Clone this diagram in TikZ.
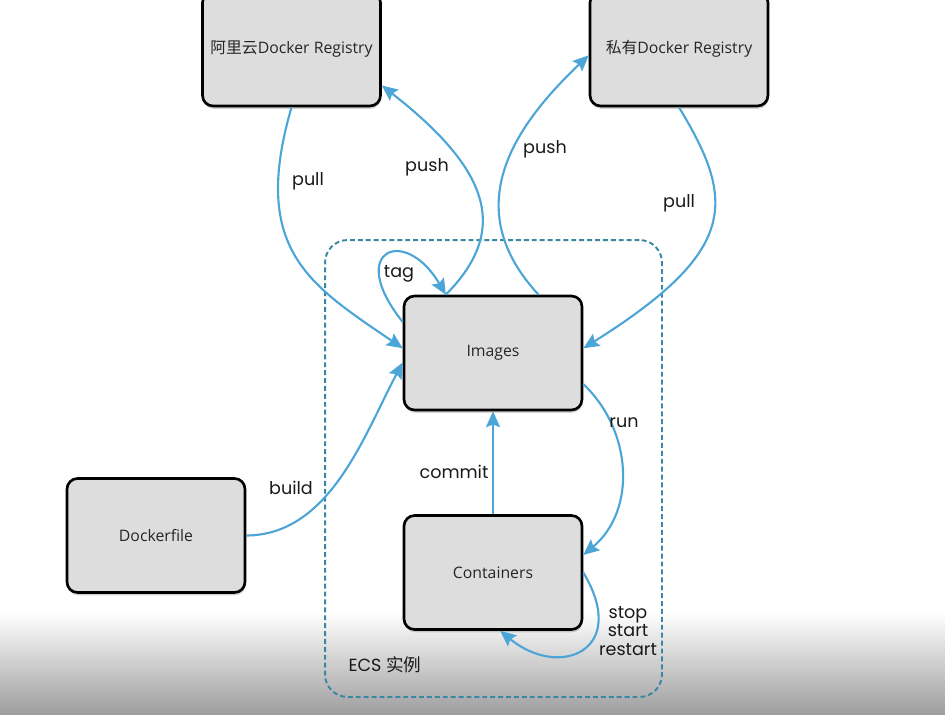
\documentclass[tikz,border=0pt]{standalone}
\usepackage{fontspec}
\setmainfont{Open Sans}
\newfontfamily\labelfont{Poppins}
\newfontfamily\cjk{Noto Sans CJK SC}
\usepackage{tikz}
\usetikzlibrary{arrows.meta,shadows}
\definecolor{flowblue}{RGB}{75,165,215}
\definecolor{ecsteal}{RGB}{58,135,163}
\definecolor{boxgray}{RGB}{221,221,221}
\tikzstyle{dockbox} = [draw=black, fill=boxgray, line width=1.5pt, rectangle, rounded corners=6pt, minimum width=3.56cm, minimum height=2.28cm, font=\fontsize{9}{11}\selectfont, text=black!85, drop shadow={shadow xshift=0.4pt, shadow yshift=-1.6pt, opacity=0.35}]
\tikzstyle{flow} = [draw=flowblue, line width=1.2pt, -{Stealth[length=9pt, width=8pt, inset=1.5pt]}]
\tikzstyle{flowlabel} = [font=\labelfont\fontsize{10}{10.6}\selectfont, text=black!90, inner sep=0pt]
\tikzstyle{ecsframe} = [draw=ecsteal, line width=1.1pt, dash pattern=on 2.8pt off 1.7pt, rectangle, rounded corners=0.45cm, minimum width=6.74cm, minimum height=9.14cm]

\begin{document}
\begin{tikzpicture}[x=0.02cm, y=0.02cm]
	\useasboundingbox (0,0) rectangle (945,-714);
	\shade[top color=white, bottom color=black!38] (0,-612) rectangle (945,-714);
	\node[ecsframe](ecs) at (493.5,-468.5) {};
	\node[flowlabel](ecslabel) at (385,-665) {ECS {\cjk 实例}};
	\node[dockbox](aliyun) at (291.5,-49) {{\cjk 阿里云}Docker Registry};
	\node[dockbox](private) at (679,-49) {{\cjk 私有}Docker Registry};
	\node[dockbox](images) at (493,-353) {Images};
	\node[dockbox](containers) at (493,-572.5) {Containers};
	\node[dockbox](dockerfile) at (156,-535.5) {Dockerfile};
	\draw[flow] (aliyun.south) .. controls (250,-250) and (310,-285) .. (images.177);
	\draw[flow] (images.129) .. controls (510,-230) and (490,-170) .. (aliyun.-22);
	\draw[flow] (images.52) .. controls (460,-210) and (510,-130) .. (private.184);
	\draw[flow] (private.south) .. controls (735,-200) and (740,-250) .. (images.3);
	\draw[flow] (images.161) .. controls (345,-250) and (405,-225) .. (images.129);
	\draw[flow] (dockerfile.east) .. controls (330,-535) and (364,-435) .. (images.186);
	\draw[flow] (containers.north) -- (images.south);
	\draw[flow] (images.-19) .. controls (632,-430) and (637,-510) .. (containers.11);
	\draw[flow] (containers.east) .. controls (630,-650) and (560,-680) .. (containers.-83);
	\node[flowlabel](pullali) at (308,-181) {pull};
	\node[flowlabel](pushali) at (427,-167) {push};
	\node[flowlabel](pushprivate) at (545,-149) {push};
	\node[flowlabel](pullprivate) at (679,-203) {pull};
	\node[flowlabel](tag) at (399,-274) {tag};
	\node[flowlabel](build) at (291,-488) {build};
	\node[flowlabel](commit) at (454,-472) {commit};
	\node[flowlabel](run) at (624,-423) {run};
	\node[flowlabel, align=center](restart) at (628,-631) {stop\\start\\restart};
\end{tikzpicture}
\end{document}
